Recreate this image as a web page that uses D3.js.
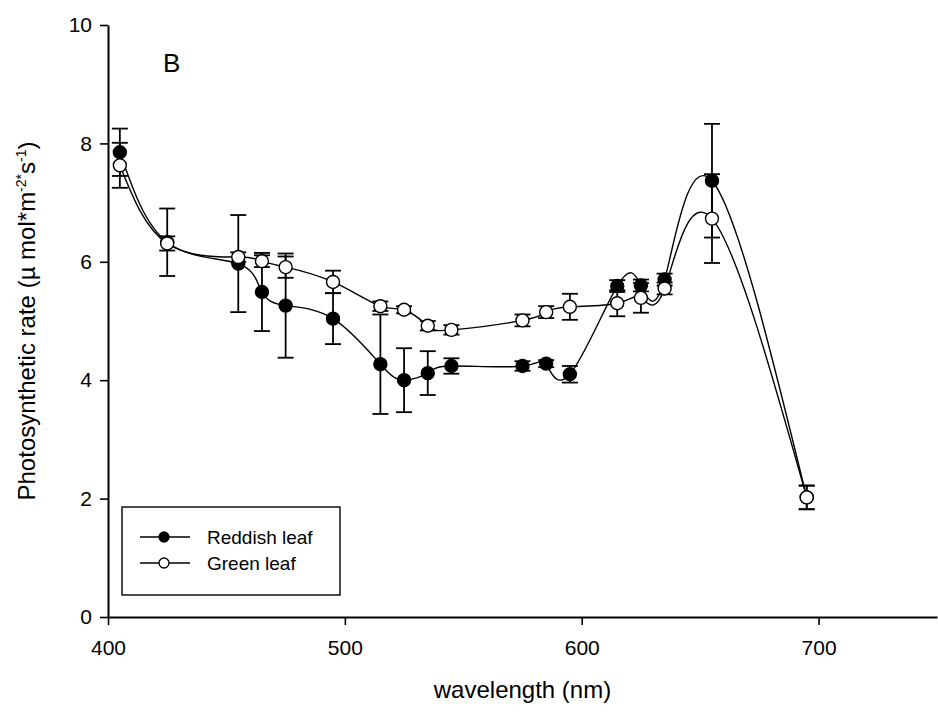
<!DOCTYPE html>
<html>
<head>
<meta charset="utf-8">
<script src="https://cdn.jsdelivr.net/npm/d3@7"></script>
<style>
  html, body { margin: 0; padding: 0; background: #fff; }
  svg text { font-family: "Liberation Sans", Arial, sans-serif; fill: #000; }
</style>
</head>
<body>
<svg id="chart" width="938" height="720"></svg>
<script>
// Wavelengths of the monochromatic light treatments (nm)
const wavelengths = [405, 425, 455, 465, 475, 495, 515, 525, 535, 545, 575, 585, 595, 615, 625, 635, 655, 695];

// Photosynthetic rate, reddish leaves (mean and error)
const reddish    = [7.85, 6.33, 5.97, 5.49, 5.26, 5.04, 4.27, 4.00, 4.12, 4.24, 4.24, 4.28, 4.10, 5.59, 5.60, 5.70, 7.37, 2.02];
const reddishErr = [0.40, 0.57, 0.82, 0.66, 0.88, 0.43, 0.84, 0.54, 0.37, 0.13, 0.08, 0.06, 0.14, 0.10, 0.10, 0.10, 0.96, 0.20];

// Photosynthetic rate, green leaves (mean and error)
const green      = [7.63, 6.31, 6.08, 6.01, 5.91, 5.66, 5.25, 5.19, 4.92, 4.85, 5.01, 5.15, 5.24, 5.30, 5.39, 5.55, 6.73, 2.02];
const greenErr   = [0.38, 0.12, 0.08, 0.10, 0.18, 0.19, 0.08, 0.06, 0.08, 0.08, 0.10, 0.10, 0.22, 0.22, 0.25, 0.10, 0.75, 0.20];

const xTicks = [400, 500, 600, 700];
const yTicks = [0, 2, 4, 6, 8, 10];
const seriesNames = ["Reddish leaf", "Green leaf"];

const svg = d3.select("#chart");
const W = 938, H = 720;
const margin = { left: 108, right: 1, top: 25, bottom: 103 };

const x = d3.scaleLinear().domain([400, 750]).range([margin.left, W - margin.right]);
const y = d3.scaleLinear().domain([0, 10]).range([H - margin.bottom, margin.top]);

// Axes
const xAxis = d3.axisBottom(x).tickValues(xTicks).tickSize(8).tickSizeOuter(0).tickPadding(15);
const yAxis = d3.axisLeft(y).tickValues(yTicks).tickSize(8).tickSizeOuter(0).tickPadding(8);

const gx = svg.append("g").attr("transform", `translate(0,${H - margin.bottom})`).call(xAxis);
const gy = svg.append("g").attr("transform", `translate(${margin.left},0)`).call(yAxis);

[gx, gy].forEach(g => {
  g.select(".domain").attr("stroke", "#000").attr("stroke-width", 2);
  g.selectAll(".tick line").attr("stroke", "#000").attr("stroke-width", 1.6);
  g.selectAll(".tick text").attr("font-size", 21).attr("font-family", "Liberation Sans, Arial, sans-serif").attr("fill", "#000");
});

// Axis titles
svg.append("text")
  .attr("x", (x.range()[0] + x.range()[1]) / 2)
  .attr("y", 698)
  .attr("text-anchor", "middle")
  .attr("font-size", 24)
  .text("wavelength (nm)");

const yTitle = svg.append("text")
  .attr("transform", `translate(35,${(y.range()[0] + y.range()[1]) / 2}) rotate(-90)`)
  .attr("text-anchor", "middle")
  .attr("font-size", 24);
yTitle.append("tspan").text("Photosynthetic rate (\u00B5 mol*m");
yTitle.append("tspan").attr("dy", -9).attr("font-size", 14).text("-2*");
yTitle.append("tspan").attr("dy", 9).text("s");
yTitle.append("tspan").attr("dy", -9).attr("font-size", 14).text("-1");
yTitle.append("tspan").attr("dy", 9).text(")");

// Panel letter
svg.append("text").attr("x", 163).attr("y", 72).attr("font-size", 26).text("B");

// Series drawing
const line = d3.line().x(d => x(d.w)).y(d => y(d.v)).curve(d3.curveNatural);

function drawSeries(values, errs, fill) {
  const data = wavelengths.map((w, i) => ({ w, v: values[i], e: errs[i] }));
  const g = svg.append("g");
  g.append("path").datum(data)
    .attr("d", line)
    .attr("fill", "none")
    .attr("stroke", "#000")
    .attr("stroke-width", 1.4);

  const eb = g.append("g").attr("stroke", "#000").attr("stroke-width", 1.8);
  data.forEach(d => {
    eb.append("line").attr("x1", x(d.w)).attr("x2", x(d.w)).attr("y1", y(d.v + d.e)).attr("y2", y(d.v - d.e));
    eb.append("line").attr("x1", x(d.w) - 8).attr("x2", x(d.w) + 8).attr("y1", y(d.v + d.e)).attr("y2", y(d.v + d.e));
    eb.append("line").attr("x1", x(d.w) - 8).attr("x2", x(d.w) + 8).attr("y1", y(d.v - d.e)).attr("y2", y(d.v - d.e));
  });

  g.selectAll("circle").data(data).enter().append("circle")
    .attr("cx", d => x(d.w))
    .attr("cy", d => y(d.v))
    .attr("r", 6.5)
    .attr("fill", fill)
    .attr("stroke", "#000")
    .attr("stroke-width", 1.4);
}

drawSeries(reddish, reddishErr, "#000");
drawSeries(green, greenErr, "#fff");

// Legend
const lg = svg.append("g");
lg.append("rect").attr("x", 122).attr("y", 507).attr("width", 218).attr("height", 88)
  .attr("fill", "#fff").attr("stroke", "#000").attr("stroke-width", 1.4);
const fills = ["#000", "#fff"];
seriesNames.forEach((name, i) => {
  const yy = 537 + i * 26;
  lg.append("line").attr("x1", 140).attr("x2", 190).attr("y1", yy).attr("y2", yy).attr("stroke", "#000").attr("stroke-width", 1.4);
  lg.append("circle").attr("cx", 164).attr("cy", yy).attr("r", 5).attr("fill", fills[i]).attr("stroke", "#000").attr("stroke-width", 1.3);
  lg.append("text").attr("x", 207).attr("y", yy + 7).attr("font-size", 19).text(name);
});
</script>
</body>
</html>
